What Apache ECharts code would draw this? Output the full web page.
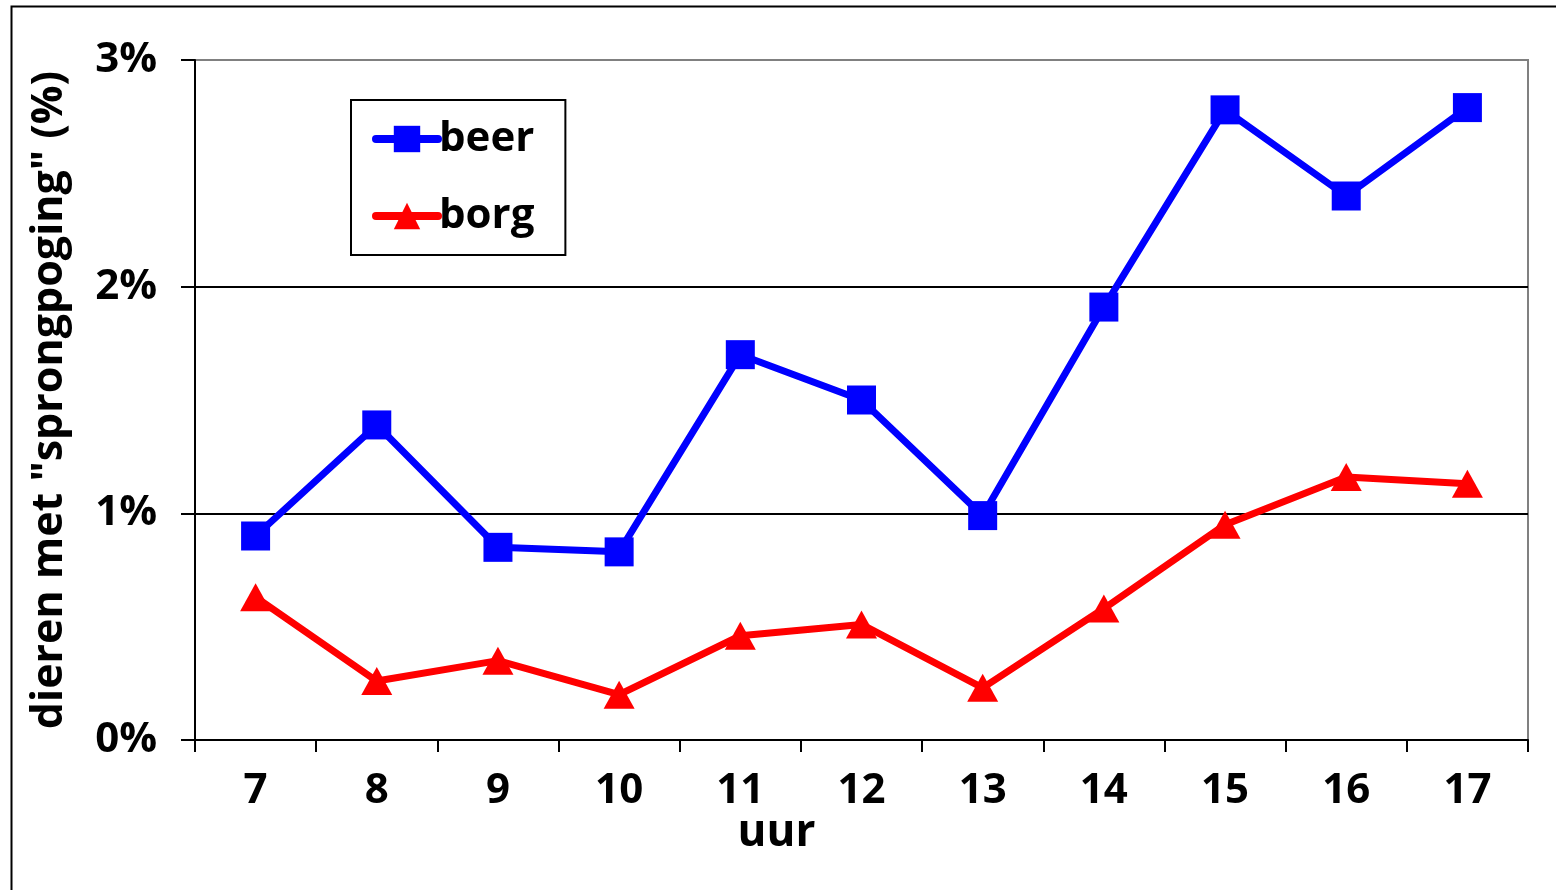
<!DOCTYPE html>
<html>
<head>
<meta charset="utf-8">
<script src="https://cdn.jsdelivr.net/npm/echarts@6/dist/echarts.min.js"></script>
<style>
  html, body { margin: 0; padding: 0; background: #fff; }
  #main { width: 1556px; height: 890px; }
</style>
</head>
<body>
<div id="main"></div>
<script>
var uren = ['7', '8', '9', '10', '11', '12', '13', '14', '15', '16', '17'];
var beer = [0.90, 1.39, 0.85, 0.83, 1.70, 1.50, 0.99, 1.91, 2.78, 2.40, 2.79];
var borg = [0.63, 0.26, 0.35, 0.20, 0.46, 0.51, 0.23, 0.58, 0.95, 1.16, 1.13];

var font = '"Open Sans", "DejaVu Sans", sans-serif';

var chart = echarts.init(document.getElementById('main'));
chart.setOption({
  animation: false,
  backgroundColor: '#fff',
  textStyle: { fontFamily: font },
  graphic: [{
    type: 'rect', left: 9, top: 4, z: -10,
    shape: { width: 1600, height: 1000 },
    style: { fill: 'none', stroke: '#000', lineWidth: 2 }
  }],
  grid: {
    left: 195, right: 28, top: 60, bottom: 150,
    show: true, borderColor: '#808080', borderWidth: 2
  },
  legend: {
    left: 351, top: 100,
    orient: 'vertical',
    backgroundColor: '#fff',
    borderColor: '#000', borderWidth: 2,
    padding: [18, 31, 18, 21],
    itemWidth: 62, itemHeight: 33, itemGap: 35,
    lineStyle: { width: 8, cap: 'round' },
    textStyle: { fontFamily: font, fontSize: 42, fontWeight: 'bold', color: '#000', padding: [0, 0, 0, -4] },
    data: ['beer', 'borg']
  },
  xAxis: {
    type: 'category',
    data: uren,
    boundaryGap: true,
    name: 'uur',
    nameLocation: 'middle',
    nameGap: 71,
    nameMoveOverlap: false,
    nameTextStyle: { fontFamily: font, fontSize: 44, fontWeight: 'bold', color: '#000', padding: [0, 170, 0, 0] },
    axisLine: { lineStyle: { color: '#000', width: 2 } },
    axisTick: { show: true, interval: 0, length: 12, alignWithLabel: false, lineStyle: { color: '#000', width: 2 } },
    axisLabel: { interval: 0, margin: 30, fontFamily: font, fontSize: 42, fontWeight: 'bold', color: '#000' }
  },
  yAxis: {
    type: 'value',
    min: 0, max: 3, interval: 1,
    name: 'dieren met "sprongpoging" (%)',
    nameLocation: 'middle',
    nameGap: 124,
    nameTextStyle: { fontFamily: font, fontSize: 43, fontWeight: 'bold', color: '#000' },
    axisLine: { show: true, lineStyle: { color: '#000', width: 2 } },
    axisTick: { show: true, length: 14, lineStyle: { color: '#000', width: 2 } },
    axisLabel: { margin: 38, formatter: '{value}%', fontFamily: font, fontSize: 42, fontWeight: 'bold', color: '#000' },
    splitLine: { show: true, lineStyle: { color: ['#000', '#000', '#000', '#808080'], width: 2 } }
  },
  series: [{
    name: 'beer',
    type: 'line',
    data: beer,
    symbol: 'rect',
    symbolSize: 29,
    color: '#0000ff',
    lineStyle: { color: '#0000ff', width: 7 },
    itemStyle: { color: '#0000ff' }
  }, {
    name: 'borg',
    type: 'line',
    data: borg,
    symbol: 'triangle',
    symbolSize: [31, 28],
    color: '#ff0000',
    lineStyle: { color: '#ff0000', width: 7 },
    itemStyle: { color: '#ff0000' }
  }]
});
</script>
</body>
</html>
